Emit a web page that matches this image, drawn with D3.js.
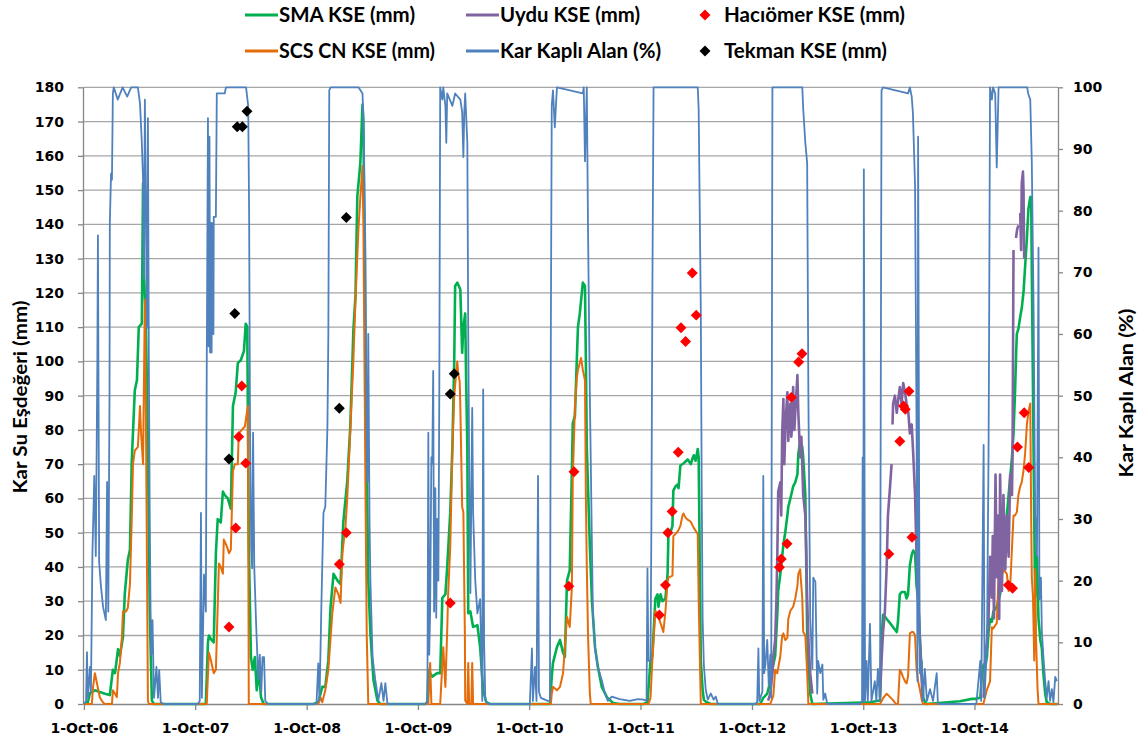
<!DOCTYPE html>
<html>
<head>
<meta charset="utf-8">
<script src="https://cdn.jsdelivr.net/npm/d3@7"></script>
<style>
  body { margin: 0; background: #fff; }
  svg { display: block; }
  .axis text { font-family: "DejaVu Sans", sans-serif; font-weight: bold; font-size: 14px; fill: #000; }
  .axis path, .axis line { stroke: #868686; }
  .lbl { font-family: Lato, "Open Sans", sans-serif; font-weight: bold; fill: #000; }
</style>
</head>
<body>
<script>
// snow water equivalent (mm) and snow covered area (%)

// SMA KSE (mm)
let smaKSE = [
  ["2006-10-01",0],["2006-10-14",0.5],["2006-10-21",3.2],["2006-11-06",4],["2006-11-22",3.5],["2006-12-09",3],["2006-12-25",2.6],
  ["2007-01-04",10],["2007-01-11",9],["2007-01-21",16],["2007-01-27",14],["2007-02-06",19.5],["2007-02-12",32],["2007-02-22",42],
  ["2007-03-01",45],["2007-03-07",71],["2007-03-17",91.6],["2007-03-24",94.5],["2007-03-30",110],["2007-04-09",111],["2007-04-13",152],
  ["2007-04-16",125],["2007-04-22",113],["2007-04-29",75],["2007-05-05",26.5],["2007-05-12",1],["2007-05-19",0],
  ["2007-11-05",0],["2007-11-12",18],["2007-11-15",20],["2007-11-21",19],["2007-12-01",18],["2007-12-08",44],["2007-12-14",54],
  ["2007-12-24",53],["2007-12-31",62],["2008-01-06",61],["2008-01-16",60],["2008-01-26",57],["2008-02-02",87],["2008-02-11",91],
  ["2008-02-18",99.5],["2008-02-28",100.4],["2008-03-09",103],["2008-03-15",111],["2008-03-20",110],["2008-03-25",46],["2008-04-01",13.7],
  ["2008-04-07",10],["2008-04-14",13.7],["2008-04-20",4],["2008-04-27",10],["2008-05-04",2],["2008-05-13",0],
  ["2008-10-23",0],["2008-11-08",0.5],["2008-11-21",5],["2008-12-01",5],["2008-12-11",12.8],["2008-12-18",28],["2008-12-28",38],
  ["2009-01-10",36],["2009-01-20",35],["2009-01-29",53],["2009-02-11",65],["2009-02-21",81],["2009-02-28",100],["2009-03-03",109],
  ["2009-03-10",119],["2009-03-16",148],["2009-03-26",158],["2009-04-02",175],["2009-04-05",170],["2009-04-12",100],["2009-04-18",56],
  ["2009-04-21",36],["2009-04-28",20.7],["2009-05-08",7],["2009-05-21",1],["2009-05-31",0],
  ["2009-10-25",0],["2009-11-01",0.5],["2009-11-04",10],["2009-11-10",9],["2009-11-17",8],["2009-12-03",9],["2009-12-13",9],
  ["2009-12-20",31],["2009-12-30",32],["2010-01-05",40],["2010-01-15",56],["2010-01-22",75],["2010-01-28",100],["2010-01-31",122],
  ["2010-02-07",123],["2010-02-17",121],["2010-02-23",102.5],["2010-02-27",110],["2010-03-05",114],["2010-03-08",95],["2010-03-12",75],
  ["2010-03-15",26.5],["2010-03-22",27],["2010-03-31",22.5],["2010-04-14",23],["2010-04-23",16.6],["2010-05-03",4],["2010-05-13",0.5],
  ["2010-05-26",0],
  ["2010-12-08",0],["2010-12-14",8],["2010-12-18",12],["2010-12-31",16.6],["2011-01-10",18.7],["2011-01-20",15],["2011-01-26",13.7],
  ["2011-02-02",36],["2011-02-11",39],["2011-02-18",68],["2011-02-21",82],["2011-02-28",84],["2011-03-06",100],["2011-03-10",110],
  ["2011-03-16",114],["2011-03-26",123],["2011-04-02",122],["2011-04-05",100],["2011-04-08",75],["2011-04-18",46],["2011-04-25",30],
  ["2011-05-05",16.6],["2011-05-14",11],["2011-05-27",5],["2011-06-13",2],["2011-07-03",0.3],["2011-07-25",0],
  ["2011-10-11",0],["2011-10-24",0.5],["2011-11-03",12.7],["2011-11-09",14],["2011-11-19",30.8],["2011-11-26",32],["2011-11-29",28.4],
  ["2011-12-06",32],["2011-12-12",30],["2011-12-22",30.8],["2011-12-29",38],["2012-01-01",50.2],["2012-01-07",50],["2012-01-14",52],
  ["2012-01-17",62.3],["2012-01-24",63.5],["2012-01-30",64],["2012-02-03",63],["2012-02-09",69.6],["2012-02-19",70.2],["2012-03-04",71.4],
  ["2012-03-14",70],["2012-03-21",72],["2012-03-24",72.6],["2012-03-30",71],["2012-04-06",74.4],["2012-04-09",72],["2012-04-16",12.7],
  ["2012-04-22",4.2],["2012-04-26",1.2],["2012-05-05",0.5],["2012-05-19",0],
  ["2012-10-28",0],["2012-11-07",1.8],["2012-11-20",3],["2012-11-30",6.6],["2012-12-07",10],["2012-12-10",11.5],["2012-12-16",14],
  ["2012-12-23",26],["2012-12-26",33],["2013-01-02",38],["2013-01-08",43],["2013-01-12",46.6],["2013-01-18",50],["2013-01-25",55],
  ["2013-01-28",57.5],["2013-02-04",60],["2013-02-10",62.3],["2013-02-13",63.5],["2013-02-20",64.7],["2013-02-27",67],["2013-03-02",73],
  ["2013-03-08",76.8],["2013-03-15",75],["2013-03-18",72],["2013-03-25",61],["2013-03-31",21],["2013-04-04",11.5],["2013-04-10",3],
  ["2013-04-17",0],
  ["2013-10-23",0.5],["2013-11-25",1],["2013-11-30",18.7],["2013-12-05",26],["2013-12-11",25.5],["2013-12-17",24.8],["2013-12-28",23.6],
  ["2014-01-07",22.4],["2014-01-19",21],["2014-01-23",24],["2014-01-29",32],["2014-02-04",32.7],["2014-02-15",32.7],["2014-02-20",30.8],
  ["2014-02-25",32],["2014-03-03",40.5],["2014-03-09",43.5],["2014-03-14",44.8],["2014-03-20",44],["2014-03-25",34.5],["2014-03-30",30.8],
  ["2014-04-05",18.7],["2014-04-11",9],["2014-04-16",1.8],["2014-04-25",0],["2014-08-14",0.8],["2014-09-23",1.5],
  ["2014-10-03",1.5],["2014-10-20",1.8],["2014-10-25",7.9],["2014-10-31",11.5],["2014-11-05",10.5],["2014-11-11",14],["2014-11-16",21],
  ["2014-11-21",24.8],["2014-11-27",24],["2014-12-02",27],["2014-12-13",28.4],["2014-12-24",32],["2015-01-04",43],["2015-01-10",46.6],
  ["2015-01-15",55],["2015-01-21",61],["2015-01-26",66],["2015-02-01",72],["2015-02-06",79],["2015-02-11",91],["2015-02-15",103.4],
  ["2015-02-17",108],["2015-02-22",109.5],["2015-02-28",113],["2015-03-05",115.5],["2015-03-11",120.4],["2015-03-16",127.6],
  ["2015-03-22",136],["2015-03-27",144.5],["2015-04-02",148],["2015-04-05",148],["2015-04-07",127.6],["2015-04-11",91],["2015-04-15",55],
  ["2015-04-18",31],["2015-04-24",43],["2015-04-29",24.8],["2015-05-05",18.7],["2015-05-10",16.3],["2015-05-15",9],["2015-05-21",3],
  ["2015-05-26",0.6],["2015-06-06",0],["2015-07-01",0]
];

// SCS CN KSE (mm)
let scsKSE = [
  ["2006-10-01",0],["2006-10-27",0],["2006-10-31",5],["2006-11-06",9],["2006-11-13",6],["2006-11-22",2],["2006-12-02",0.5],
  ["2006-12-09",0],["2007-01-01",0],["2007-01-04",4],["2007-01-11",3],["2007-01-17",2],["2007-01-21",9],["2007-01-27",12],
  ["2007-02-03",20],["2007-02-06",27],["2007-02-16",27],["2007-02-22",28],["2007-03-01",35],["2007-03-07",54],["2007-03-11",70],
  ["2007-03-17",74],["2007-03-27",75],["2007-04-03",87],["2007-04-06",80],["2007-04-13",70],["2007-04-19",118],["2007-04-22",90],
  ["2007-04-29",1],["2007-05-02",0],
  ["2007-11-08",0],["2007-11-15",15],["2007-11-21",13],["2007-12-01",9],["2007-12-08",10],["2007-12-18",41],["2007-12-24",40],
  ["2007-12-31",38],["2008-01-03",48],["2008-01-13",46],["2008-01-20",44],["2008-01-26",45],["2008-02-02",68],["2008-02-08",70],
  ["2008-02-18",70],["2008-02-21",79],["2008-03-02",80],["2008-03-12",81],["2008-03-22",87],["2008-03-25",0],
  ["2008-11-08",0],["2008-11-15",2],["2008-11-21",0.5],["2008-12-01",4],["2008-12-11",10],["2008-12-24",26.5],["2009-01-03",34],
  ["2009-01-13",32],["2009-01-20",29.5],["2009-01-26",44],["2009-02-05",51.6],["2009-02-11",60],["2009-02-21",80],["2009-03-03",100],
  ["2009-03-10",118],["2009-03-20",139],["2009-03-26",148],["2009-04-02",157],["2009-04-05",140],["2009-04-12",60],["2009-04-16",20],
  ["2009-04-21",0],
  ["2009-11-04",0],["2009-11-10",12],["2009-11-14",0],["2009-12-13",0],["2009-12-23",16.6],["2009-12-30",5],["2010-01-05",21.6],
  ["2010-01-08",32],["2010-01-15",46],["2010-01-22",75],["2010-01-28",90],["2010-02-07",100],["2010-02-10",96.5],["2010-02-15",94],
  ["2010-02-17",87],["2010-02-23",57.5],["2010-02-27",56],["2010-03-04",20],["2010-03-05",1],["2010-03-12",0],["2010-03-15",12],
  ["2010-03-18",0],["2010-03-25",0],["2010-03-28",12],["2010-03-31",0],
  ["2010-12-11",0],["2010-12-14",3],["2010-12-18",5],["2010-12-31",4],["2011-01-10",5],["2011-01-20",9],["2011-02-02",25.4],
  ["2011-02-11",22.5],["2011-02-18",34],["2011-02-21",66],["2011-02-28",86.6],["2011-03-06",95],["2011-03-10",97.5],["2011-03-20",101],
  ["2011-03-26",97.5],["2011-04-02",94.5],["2011-04-05",60],["2011-04-08",40],["2011-04-12",20],["2011-04-18",3],["2011-04-21",0],
  ["2011-10-27",0],["2011-11-03",1.8],["2011-11-09",12.7],["2011-11-13",18.7],["2011-11-19",27.2],["2011-11-26",26],["2011-12-06",23.6],
  ["2011-12-15",21],["2011-12-22",27],["2011-12-29",35.7],["2012-01-01",36.9],["2012-01-14",37.5],["2012-01-17",49],["2012-01-30",50.2],
  ["2012-02-03",50.8],["2012-02-09",52],["2012-02-16",55],["2012-02-19",55.6],["2012-02-26",54.4],["2012-03-04",53.8],["2012-03-14",53.2],
  ["2012-03-24",51.4],["2012-04-06",49.6],["2012-04-09",30.8],["2012-04-16",0],
  ["2012-11-30",0],["2012-12-10",2.4],["2012-12-16",10],["2012-12-23",9],["2013-01-02",14],["2013-01-08",20],["2013-01-12",20.6],
  ["2013-01-18",18.7],["2013-01-25",19.3],["2013-01-28",24.8],["2013-02-04",27.2],["2013-02-13",28.4],["2013-02-20",30.8],
  ["2013-02-27",34.5],["2013-03-02",38],["2013-03-08",39.3],["2013-03-15",30.8],["2013-03-18",21],["2013-03-25",20],["2013-03-31",9],
  ["2013-04-04",0],
  ["2013-11-25",0],["2013-12-06",1.8],["2013-12-17",3],["2013-12-28",2],["2014-01-06",1.2],["2014-01-16",0],["2014-01-23",0],
  ["2014-01-29",10],["2014-02-04",9],["2014-02-08",8],["2014-02-15",6.6],["2014-02-20",6],["2014-02-25",8],["2014-03-03",20.6],
  ["2014-03-09",21],["2014-03-14",21],["2014-03-20",20],["2014-03-25",10],["2014-03-30",6.6],["2014-04-05",4.2],["2014-04-11",1.2],
  ["2014-04-15",0],
  ["2014-10-30",0],["2014-11-11",4.2],["2014-11-21",6.6],["2014-11-27",22.4],["2014-12-01",22],["2014-12-13",23.6],["2014-12-19",37],
  ["2014-12-24",36],["2015-01-04",39.3],["2015-01-15",38],["2015-01-21",33],["2015-01-26",34],["2015-02-06",55],["2015-02-11",55],
  ["2015-02-17",56],["2015-02-22",61],["2015-02-28",63.5],["2015-03-05",64.7],["2015-03-11",68.3],["2015-03-16",73],["2015-03-22",81.6],
  ["2015-03-27",85.3],["2015-04-02",87.7],["2015-04-05",55],["2015-04-07",37],["2015-04-11",31],["2015-04-15",12.7],["2015-04-18",39.3],
  ["2015-04-21",18.7],["2015-04-26",4.2],["2015-04-29",0],["2015-07-01",0]
];

// Uydu KSE (mm), null = gap in the satellite record
let uyduKSE = [
  ["2012-11-23",1],["2012-11-30",3],["2012-12-07",9],["2012-12-10",14],["2012-12-16",18.7],["2012-12-20",30],["2012-12-23",43],
  ["2012-12-26",62],["2013-01-02",64.7],["2013-01-05",55],["2013-01-08",79],["2013-01-12",89],["2013-01-15",70],["2013-01-18",79],
  ["2013-01-21",85],["2013-01-25",91],["2013-01-28",76.8],["2013-01-31",84],["2013-02-04",87.7],["2013-02-07",78],["2013-02-10",81.6],
  ["2013-02-13",92.5],["2013-02-17",80],["2013-02-20",85],["2013-02-27",96],["2013-03-02",85],["2013-03-08",72],["2013-03-12",78],
  ["2013-03-18",61],["2013-03-25",55],["2013-03-28",45],["2013-03-31",30.8],["2013-04-04",18.7],["2013-04-10",9],["2013-04-17",3],
  ["2013-06-01",null],
  ["2013-11-25",2],["2013-11-30",12.7],["2013-12-05",21],["2013-12-11",27],["2013-12-17",40.5],["2013-12-21",55],["2013-12-28",63.5],
  ["2014-01-02",70],["2014-01-04",null],["2014-01-05",81.6],["2014-01-07",87.7],["2014-01-13",90],["2014-01-19",85],["2014-01-24",89],
  ["2014-01-29",92.5],["2014-02-04",87.7],["2014-02-09",93.7],["2014-02-15",91],["2014-02-20",87.7],["2014-02-26",85],["2014-03-03",79],
  ["2014-03-09",81.6],["2014-03-14",73],["2014-03-20",61],["2014-03-25",43],["2014-03-30",31],["2014-04-05",18.7],["2014-04-11",6.6],
  ["2014-04-15",1],
  ["2014-06-01",null],
  ["2014-10-31",1.8],["2014-11-05",12.7],["2014-11-11",18.7],["2014-11-16",24.8],["2014-11-21",43],["2014-11-27",31],["2014-11-30",49],
  ["2014-12-04",25],["2014-12-09",67],["2014-12-13",37],["2014-12-17",55],["2014-12-21",24.8],["2014-12-24",67],["2014-12-30",33],
  ["2015-01-04",61],["2015-01-10",39.3],["2015-01-15",55],["2015-01-21",43],["2015-01-26",67],["2015-02-01",61],["2015-02-03",74],
  ["2015-02-06",132.5],["2015-02-08",null],["2015-02-14",136],["2015-02-18",138.5],["2015-02-22",139.7],["2015-02-24",null],
  ["2015-02-28",143.3],["2015-03-03",132.5],["2015-03-05",151.8],["2015-03-09",155.4],["2015-03-11",149.4],["2015-03-13",130]
];

// Kar Kapli Alan (%), right axis
let karKapli = [
  ["2006-10-01",0],["2006-10-08",0.5],["2006-10-11",8.4],["2006-10-14",1],["2006-10-21",6],["2006-10-24",2],["2006-10-29",24.5],
  ["2006-11-04",37],["2006-11-09",24],["2006-11-14",55],["2006-11-16",76],["2006-11-20",23],["2006-11-26",19],["2006-12-03",15.7],
  ["2006-12-12",13.6],["2006-12-16",36],["2006-12-20",15],["2006-12-24",50],["2006-12-25",78],["2006-12-29",86],["2007-01-01",85],
  ["2007-01-04",99],["2007-01-07",100],["2007-01-20",98],["2007-02-05",100],["2007-02-20",98.5],["2007-03-05",100],["2007-03-27",100],
  ["2007-04-03",97.4],["2007-04-09",91],["2007-04-13",85],["2007-04-16",69],["2007-04-19",98],["2007-04-26",61],["2007-04-29",95],
  ["2007-05-02",56],["2007-05-05",30],["2007-05-08",13.6],["2007-05-10",8],["2007-05-14",13.6],["2007-05-19",1],["2007-05-27",6],
  ["2007-06-01",1],["2007-06-05",5.5],["2007-06-10",0.3],["2007-06-20",0],
  ["2007-10-10",0],["2007-10-16",0.5],["2007-10-20",31],["2007-10-23",1],["2007-10-30",21],["2007-11-05",15],["2007-11-08",55],
  ["2007-11-12",95],["2007-11-14",58],["2007-11-17",92],["2007-11-19",57],["2007-11-21",78],["2007-11-24",57],["2007-11-26",78],
  ["2007-11-30",60],["2007-12-01",79],["2007-12-08",79],["2007-12-11",99],["2008-01-06",99],["2008-01-10",100],["2008-03-16",100],
  ["2008-03-23",97],["2008-03-26",80],["2008-03-29",45],["2008-04-02",25],["2008-04-05",22],["2008-04-08",44],["2008-04-12",22],
  ["2008-04-18",13],["2008-04-25",4],["2008-04-30",8],["2008-05-05",2],["2008-05-09",7.6],["2008-05-14",7.6],["2008-05-18",0.5],
  ["2008-05-27",0],
  ["2008-11-02",0],["2008-11-08",6.6],["2008-11-12",0.5],["2008-11-18",15.7],["2008-11-25",31],["2008-12-01",32],["2008-12-08",45],
  ["2008-12-11",60],["2008-12-14",99.5],["2008-12-18",100],["2009-03-20",100],["2009-04-02",99],["2009-04-05",95],["2009-04-12",72],
  ["2009-04-15",45],["2009-04-18",36],["2009-04-21",60],["2009-04-25",30],["2009-04-28",20],["2009-05-05",7.6],["2009-05-14",3.9],
  ["2009-05-24",0.6],["2009-06-03",3.4],["2009-06-10",0.5],["2009-06-16",3.4],["2009-06-23",0],
  ["2009-10-25",0],["2009-11-01",0.5],["2009-11-04",44],["2009-11-07",8],["2009-11-10",15],["2009-11-14",40],["2009-11-17",39],
  ["2009-11-20",54],["2009-11-23",15],["2009-11-27",35],["2009-11-30",14],["2009-12-03",30],["2009-12-07",20],["2009-12-10",50],
  ["2009-12-13",100],["2009-12-20",98],["2009-12-23",100],["2009-12-30",97],["2010-01-02",91],["2010-01-05",99],["2010-01-22",97],
  ["2010-01-31",99],["2010-02-17",98],["2010-02-23",96],["2010-02-27",88.7],["2010-03-02",96],["2010-03-05",99],["2010-03-12",91],
  ["2010-03-15",60],["2010-03-18",40],["2010-03-22",18],["2010-03-28",48],["2010-03-31",31],["2010-04-07",20],["2010-04-14",14.7],
  ["2010-04-23",17],["2010-04-30",0.5],["2010-05-03",51],["2010-05-06",10],["2010-05-10",0.6],["2010-05-20",0],
  ["2010-10-03",0],["2010-10-10",9],["2010-10-13",0.5],["2010-10-20",6],["2010-10-25",0.5],["2010-10-30",37],["2010-11-02",2],
  ["2010-11-08",1],["2010-12-01",0.5],["2010-12-08",0.5],["2010-12-11",60],["2010-12-14",97],["2010-12-18",99.5],["2010-12-24",93.5],
  ["2010-12-31",100],["2011-03-26",99],["2011-03-29",100],["2011-04-02",88],["2011-04-08",100],["2011-04-12",77],["2011-04-18",50],
  ["2011-04-25",25],["2011-04-28",14.7],["2011-05-05",9],["2011-05-14",6],["2011-05-27",3.9],["2011-06-06",1.8],["2011-06-16",0.5],
  ["2011-06-29",1.2],["2011-07-25",0.8],["2011-08-27",0.5],["2011-09-23",0.8],
  ["2011-10-11",0.7],["2011-10-21",0.5],["2011-10-24",22],["2011-10-27",7],["2011-11-03",7],["2011-11-06",30],["2011-11-09",65.5],
  ["2011-11-13",100],["2012-04-06",100],["2012-04-09",96.5],["2012-04-16",64],["2012-04-19",35],["2012-04-22",13.8],["2012-04-26",6.4],
  ["2012-05-02",2.4],["2012-05-09",0.7],["2012-05-19",1.7],["2012-05-28",0.7],["2012-06-04",1.2],["2012-06-11",0],
  ["2012-10-12",0],["2012-10-18",0.3],["2012-10-22",9],["2012-10-25",0.5],["2012-11-04",2],["2012-11-07",37],["2012-11-10",5],
  ["2012-11-14",6.4],["2012-11-20",10.4],["2012-11-25",3],["2012-11-30",8],["2012-12-03",1],["2012-12-07",100],["2013-03-15",100],
  ["2013-03-18",96.5],["2013-03-25",91],["2013-03-31",87.7],["2013-04-04",50],["2013-04-10",13.8],["2013-04-17",5.7],["2013-04-20",20.5],
  ["2013-04-27",19.8],["2013-05-03",1.7],["2013-05-06",7],["2013-05-13",5],["2013-05-20",6.4],["2013-05-23",0.7],["2013-05-29",1.7],
  ["2013-06-05",0],
  ["2013-09-20",0],["2013-09-27",0.5],["2013-09-29",40],["2013-10-01",0.5],["2013-10-03",86.7],["2013-10-07",0.5],["2013-10-12",7],
  ["2013-10-16",0.5],["2013-10-23",13],["2013-10-28",0.5],["2013-11-08",3.7],["2013-11-13",0.5],["2013-11-18",5.7],["2013-11-25",0.5],
  ["2013-11-30",99.5],["2013-12-05",100],["2014-02-25",99],["2014-03-03",100],["2014-03-09",98.5],["2014-03-13",95.8],["2014-03-20",84],
  ["2014-03-25",44],["2014-03-28",3.7],["2014-03-30",92],["2014-04-03",24],["2014-04-05",5],["2014-04-11",7],["2014-04-15",0.5],
  ["2014-04-21",5.7],["2014-04-28",0.5],["2014-05-08",2.4],["2014-05-18",0.5],["2014-05-30",5],["2014-06-03",0],
  ["2014-10-07",0],["2014-10-20",7],["2014-10-23",0.5],["2014-10-31",42],["2014-11-03",1],["2014-11-11",10],["2014-11-16",40],
  ["2014-11-18",60],["2014-11-21",100],["2014-11-27",98],["2014-12-01",100],["2014-12-08",99],["2014-12-13",87],["2014-12-19",100],
  ["2015-03-23",100],["2015-03-26",99],["2015-04-02",98],["2015-04-07",88],["2015-04-13",64],["2015-04-16",44],["2015-04-18",30.6],
  ["2015-04-24",24],["2015-04-29",74],["2015-05-02",17],["2015-05-07",20.5],["2015-05-10",11.8],["2015-05-15",7.7],["2015-05-21",3.7],
  ["2015-05-26",1],["2015-06-01",3.7],["2015-06-06",0.5],["2015-06-12",2.4],["2015-06-17",0.3],["2015-06-23",4.4],["2015-06-28",3.7]
];

// ground measurements (mm)
let haciomerKSE = [
  ["2008-01-20",22.5],["2008-02-11",51.4],["2008-02-21",78],["2008-03-02",92.8],["2008-03-15",70.3],
  ["2009-01-16",40.8],["2009-02-08",50],
  ["2010-01-15",29.5],
  ["2011-02-08",34.4],["2011-02-25",67.8],
  ["2011-12-02",26],["2011-12-22",34.7],["2011-12-30",50],["2012-01-13",56.2],["2012-02-02",73.5],["2012-02-11",109.8],
  ["2012-02-26",105.8],["2012-03-19",125.8],["2012-04-01",113.5],
  ["2012-12-30",39.9],["2013-01-05",42.3],["2013-01-24",46.8],["2013-02-07",89.5],["2013-03-03",99.8],["2013-03-14",102.2],
  ["2013-12-24",43.8],["2014-01-29",76.7],["2014-02-10",87],["2014-02-16",86],["2014-02-28",91.3],["2014-03-10",48.7],
  ["2015-01-20",34.7],["2015-02-03",33.8],["2015-02-19",75],["2015-03-13",85],["2015-03-28",69]
];
let tekmanKSE = [
  ["2008-01-20",71.5],["2008-02-08",114],["2008-02-16",168.5],["2008-03-04",168.5],["2008-03-19",173],
  ["2009-01-16",86.3],["2009-02-08",142],
  ["2010-01-15",90.5],["2010-01-28",96.4]
];

let xTicks = ["2006-10-01","2007-10-01","2008-10-01","2009-10-01","2010-10-01","2011-10-01","2012-10-01","2013-10-01","2014-10-01"];
let leftTicks = [0,10,20,30,40,50,60,70,80,90,100,110,120,130,140,150,160,170,180];
let rightTicks = [0,10,20,30,40,50,60,70,80,90,100];

let green = "#00b050", orange = "#e46c0a", purple = "#8064a2", blue = "#4f81bd";

let parse = d3.timeParse("%Y-%m-%d");
let prep = arr => arr.map(d => ({date: parse(d[0]), v: d[1]}));

let svg = d3.select("body").append("svg")
    .attr("width", 1139)
    .attr("height", 744);

let pLeft = 83, pRight = 1058, pTop = 87.3, pBottom = 704;

let x = d3.scaleTime().domain([parse("2006-09-28"), parse("2015-07-02")]).range([pLeft, pRight]);
let yL = d3.scaleLinear().domain([0, 180]).range([pBottom, pTop]);
let yR = d3.scaleLinear().domain([0, 100]).range([pBottom, pTop]);

// horizontal gridlines
svg.append("g")
    .selectAll("line")
    .data(leftTicks.filter(v => v > 0))
    .join("line")
    .attr("x1", pLeft).attr("x2", pRight)
    .attr("y1", d => yL(d)).attr("y2", d => yL(d))
    .attr("stroke", "#a6a6a6")
    .attr("stroke-width", 1.3);

// axes
svg.append("g")
    .attr("class", "axis")
    .attr("transform", "translate(" + pLeft + ",0)")
    .call(d3.axisLeft(yL).tickValues(leftTicks).tickSize(5).tickSizeOuter(0).tickPadding(14));

svg.append("g")
    .attr("class", "axis")
    .attr("transform", "translate(" + pRight + ",0)")
    .call(d3.axisRight(yR).tickValues(rightTicks).tickSize(5).tickSizeOuter(0).tickPadding(10));

svg.append("g")
    .attr("class", "axis")
    .attr("transform", "translate(0," + pBottom + ")")
    .call(d3.axisBottom(x).tickValues(xTicks.map(parse)).tickSize(6).tickSizeOuter(0).tickPadding(13)
        .tickFormat(d3.timeFormat("%-d-%b-%y")));

svg.selectAll(".axis path, .axis line").attr("stroke", "#868686").attr("stroke-width", 1.3);

// lines
let lineL = d3.line().defined(d => d.v !== null).x(d => x(d.date)).y(d => yL(d.v));
let lineR = d3.line().defined(d => d.v !== null).x(d => x(d.date)).y(d => yR(d.v));

let plot = svg.append("g").attr("fill", "none").attr("stroke-linejoin", "round");

plot.append("path").datum(prep(smaKSE)).attr("d", lineL).attr("stroke", green).attr("stroke-width", 2.6);
plot.append("path").datum(prep(scsKSE)).attr("d", lineL).attr("stroke", orange).attr("stroke-width", 2);
plot.append("path").datum(prep(uyduKSE)).attr("d", lineL).attr("stroke", purple).attr("stroke-width", 2.6);
plot.append("path").datum(prep(karKapli)).attr("d", lineR).attr("stroke", blue).attr("stroke-width", 1.8);

// diamond markers
let diamond = d3.symbol(d3.symbolSquare, 60);

svg.append("g")
    .selectAll("path")
    .data(prep(haciomerKSE))
    .join("path")
    .attr("d", diamond)
    .attr("transform", d => "translate(" + x(d.date) + "," + yL(d.v) + ") rotate(45)")
    .attr("fill", "#ff0000");

svg.append("g")
    .selectAll("path")
    .data(prep(tekmanKSE))
    .join("path")
    .attr("d", diamond)
    .attr("transform", d => "translate(" + x(d.date) + "," + yL(d.v) + ") rotate(45)")
    .attr("fill", "#000");

// axis titles
svg.append("text")
    .attr("class", "lbl")
    .attr("transform", "translate(20,397) rotate(-90)")
    .attr("text-anchor", "middle")
    .attr("dy", "0.35em")
    .style("font-size", "19px")
    .attr("textLength", 193)
    .attr("lengthAdjust", "spacingAndGlyphs")
    .text("Kar Su Eşdeğeri (mm)");

svg.append("text")
    .attr("class", "lbl")
    .attr("transform", "translate(1126,393) rotate(-90)")
    .attr("text-anchor", "middle")
    .attr("dy", "0.35em")
    .style("font-size", "19px")
    .attr("textLength", 169)
    .attr("lengthAdjust", "spacingAndGlyphs")
    .text("Kar Kaplı Alan (%)");

// legend
let legend = [
  {name: "SMA KSE (mm)", kind: "line", color: green, x: 245, y: 15, w: 136},
  {name: "Uydu KSE (mm)", kind: "line", color: purple, x: 466, y: 15, w: 140},
  {name: "Hacıömer KSE (mm)", kind: "mark", color: "#ff0000", x: 705, y: 15, w: 181},
  {name: "SCS CN KSE (mm)", kind: "line", color: orange, x: 245, y: 51, w: 156},
  {name: "Kar Kaplı Alan (%)", kind: "line", color: blue, x: 466, y: 51, w: 161},
  {name: "Tekman KSE (mm)", kind: "mark", color: "#000", x: 705, y: 51, w: 163}
];

let lg = svg.append("g").selectAll("g").data(legend).join("g")
    .attr("transform", d => "translate(" + d.x + "," + d.y + ")");

lg.filter(d => d.kind == "line").append("line")
    .attr("x1", 0).attr("x2", 33)
    .attr("stroke", d => d.color)
    .attr("stroke-width", 3.2);

lg.filter(d => d.kind == "mark").append("path")
    .attr("d", diamond)
    .attr("transform", "rotate(45)")
    .attr("fill", d => d.color);

lg.append("text")
    .attr("class", "lbl")
    .attr("x", d => d.kind == "line" ? 34 : 19)
    .attr("dy", "0.35em")
    .style("font-size", "20px")
    .attr("textLength", d => d.w)
    .attr("lengthAdjust", "spacingAndGlyphs")
    .text(d => d.name);
</script>
</body>
</html>
